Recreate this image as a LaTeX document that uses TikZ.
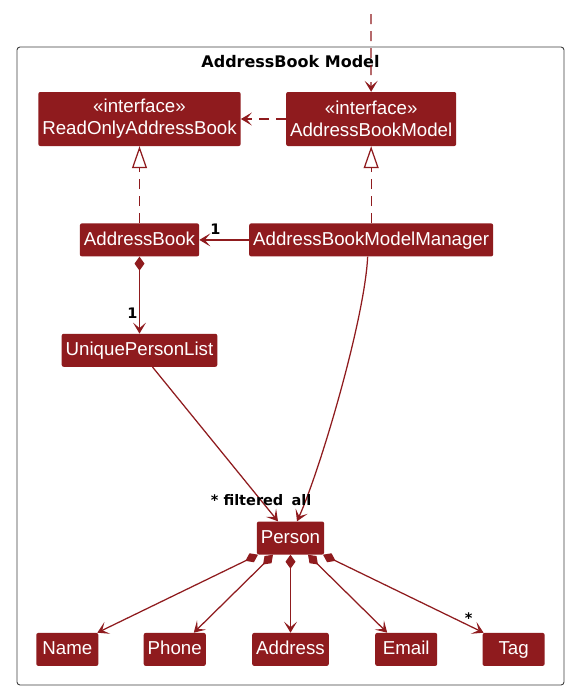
\documentclass[tikz,border=0pt]{standalone}
\usepackage{fontspec}
\setmainfont{Liberation Sans}
\newfontfamily\lblfont{DejaVu Sans}
\usetikzlibrary{positioning}
\usetikzlibrary{arrows.meta}
\definecolor{modelred}{HTML}{8F1B1E}
\tikzset{node distance=45pt,
    box/.style={
        fill=modelred,
        text=white,
        rounded corners=2pt,
        inner xsep=4pt,
        minimum width=62pt,
        font=\fontsize{18.7}{22}\selectfont},
    cls/.style={
        box,
        text height=14pt,
        text depth=3pt,
        minimum height=33pt},
    iface/.style={
        box,
        align=center,
        minimum height=54pt},
    lbl/.style={
        font=\lblfont\bfseries\fontsize{14.5}{16}\selectfont,
        inner sep=0pt},
    ttl/.style={
        font=\lblfont\bfseries\fontsize{16}{18}\selectfont,
        inner sep=0pt,
        anchor=base},
    frame/.style={
        draw=black!75,
        line width=0.9pt,
        rounded corners=3pt},
    link/.style={
        draw=modelred,
        line width=1.25pt},
    dep/.style={
        link,
        dash pattern=on 10pt off 7pt,
        -{Stealth[length=11pt,width=13pt,inset=5.5pt]}},
    real/.style={
        link,
        dash pattern=on 10pt off 7pt,
        -{Triangle[length=22pt,width=15pt,fill=white]}},
    assoc/.style={
        link,
        -{Stealth[length=11pt,width=13pt,inset=5.5pt]}},
    comp/.style={
        link,
        {Diamond[length=14pt,width=10pt]}-{Stealth[length=11pt,width=13pt,inset=5.5pt]}}}

\begin{document}
\begin{tikzpicture}[x=1pt,y=-1pt]
    \fill[white] (0,0) rectangle (586,697);
    \useasboundingbox (0,0) rectangle (586,697);
    \draw[frame] (17,47) rectangle (564,685);
    \node[ttl] (title) at (290.5,67) {AddressBook Model};

    \node[iface] (roab) at (139.5,119) {«interface»\\ReadOnlyAddressBook};
    \node[iface,right=45pt of roab] (abm) {«interface»\\AddressBookModel};
    \node[cls,below=77pt of roab] (ab) {AddressBook};
    \node[cls,below=77pt of abm] (abmm) {AddressBookModelManager};
    \node[cls,below=77pt of ab] (upl) {UniquePersonList};
    \node[cls] (person) at (290.5,538) {Person};
    \node[cls,below=78pt of person] (address) {Address};
    \node[cls,left=46pt of address] (phone) {Phone};
    \node[cls,left=45pt of phone] (name) {Name};
    \node[cls,right=46pt of address] (email) {Email};
    \node[cls,right=45pt of email] (tag) {Tag};
    \coordinate (outside) at (371,14);

    \draw[dep] (outside) -- (abm);
    \draw[dep] (abm) -- (roab);
    \draw[real] (ab) -- (roab);
    \draw[real] (abmm) -- (abm);
    \draw[assoc] (abmm) -- (ab) node[lbl,at end,anchor=south,xshift=16pt,yshift=4.5pt] {1};
    \draw[comp] (ab) -- (upl) node[lbl,at end,anchor=south,xshift=-7pt,yshift=14pt] {1};
    \draw[assoc] ([xshift=13pt]upl.south) -- ([xshift=-12.5pt]person.north)
        node[lbl,at end,anchor=south east,xshift=6pt,yshift=15pt] {* filtered};
    \draw[assoc] ([xshift=-3.5pt]abmm.south) .. controls +(-3,63) and +(23,-51) .. ([xshift=6.5pt]person.north)
        node[lbl,at end,anchor=south west,xshift=-6pt,yshift=15pt] {all};

    \draw[comp] ([xshift=-32.5pt]person.south) -- ([xshift=30pt]name.north);
    \draw[comp] ([xshift=-17.5pt]person.south) -- ([xshift=19pt]phone.north);
    \draw[comp] (person) -- (address);
    \draw[comp] ([xshift=17.5pt]person.south) -- ([xshift=-19pt]email.north);
    \draw[comp] ([xshift=32.5pt]person.south) -- ([xshift=-30pt]tag.north)
        node[lbl,at end,anchor=south,xshift=-15pt,yshift=9pt] {*};
\end{tikzpicture}
\end{document}
